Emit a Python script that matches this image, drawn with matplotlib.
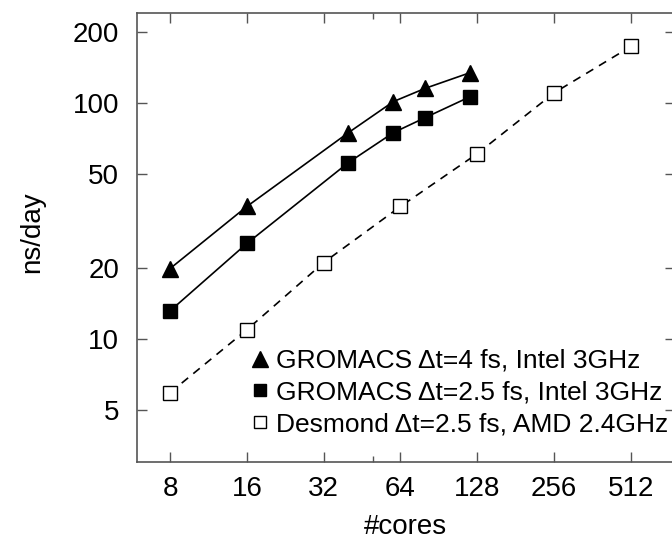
import matplotlib
matplotlib.use('Agg')
import matplotlib.pyplot as plt
from matplotlib.ticker import FixedLocator, NullFormatter

plt.rcParams['font.family'] = ['Liberation Sans', 'DejaVu Sans']

# GROMACS, dt = 4 fs
cores_g = [8, 16, 40, 60, 80, 120]
gmx4 = [19.8, 36.3, 74.6, 101, 115, 134]
# GROMACS, dt = 2.5 fs
gmx25 = [13.1, 25.3, 55.7, 74.6, 86.4, 106]
# Desmond, dt = 2.5 fs
cores_d = [8, 16, 32, 64, 128, 256, 512]
desmond = [5.9, 10.9, 21, 36.3, 60.8, 110, 173]

xticks = [8, 16, 32, 64, 128, 256, 512]
yticks = [5, 10, 20, 50, 100, 200]

labels = ['GROMACS \u0394t=4 fs, Intel 3GHz',
          'GROMACS \u0394t=2.5 fs, Intel 3GHz',
          'Desmond \u0394t=2.5 fs, AMD 2.4GHz']

fig = plt.figure(figsize=(6.72, 5.39), dpi=100)
ax = fig.add_axes([0.204, 0.143, 0.80, 0.833])

ax.plot(cores_g, gmx4, '-', color='black', lw=1.2, marker='^', ms=12,
        mfc='black', mec='black', label=labels[0])
ax.plot(cores_g, gmx25, '-', color='black', lw=1.2, marker='s', ms=9.5,
        mfc='black', mec='black', label=labels[1])
ax.plot(cores_d, desmond, '--', color='black', lw=1.2, marker='s', ms=9.5,
        mfc='white', mec='black', mew=1.0, dashes=(5, 4), label=labels[2])

ax.set_xscale('log')
ax.set_yscale('log')
ax.set_xlim(5.94, 760)
ax.set_ylim(3.0, 240)

ax.xaxis.set_major_locator(FixedLocator(xticks))
ax.xaxis.set_minor_locator(FixedLocator([50]))
ax.xaxis.set_minor_formatter(NullFormatter())
ax.set_xticklabels([str(t) for t in xticks])
ax.yaxis.set_major_locator(FixedLocator(yticks))
ax.yaxis.set_minor_locator(FixedLocator([]))
ax.set_yticklabels([str(t) for t in yticks])

ax.tick_params(which='major', direction='in', length=7, width=1.0,
               top=True, right=True, labelsize=20, color='#555555')
ax.tick_params(axis='y', pad=13)
ax.tick_params(axis='x', pad=10)
ax.tick_params(which='minor', direction='in', length=4, width=1.0,
               top=True, right=True, color='#555555')
for s in ax.spines.values():
    s.set_color('#555555')
    s.set_linewidth(1.2)

ax.set_xlabel('#cores', fontsize=20, labelpad=9)
ax.set_ylabel('ns/day', fontsize=20)
ax.yaxis.set_label_coords(-0.171, 0.512)

leg = ax.legend(loc='upper left', bbox_to_anchor=(0.209, 0.252), frameon=False,
                fontsize=19, handlelength=0.8, handletextpad=0.2,
                labelspacing=0.3, borderaxespad=0, borderpad=0)
for h in leg.legend_handles:
    h.set_linestyle('None')
leg.legend_handles[0].set_markersize(11.5)
leg.legend_handles[1].set_markersize(9)
leg.legend_handles[2].set_markersize(8)

fig.savefig('out.png', dpi=100)
